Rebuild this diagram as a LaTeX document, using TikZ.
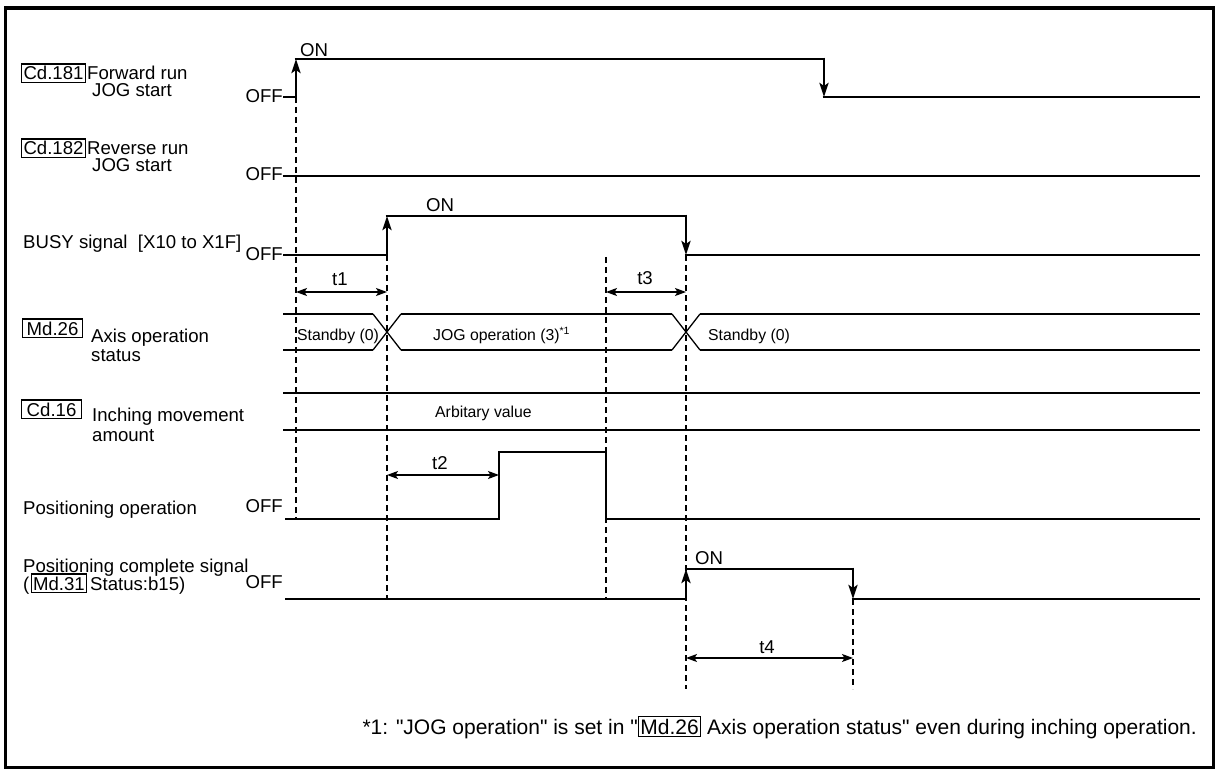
\documentclass[tikz,border=0pt]{standalone}
\usepackage{fontspec}
\setmainfont{Liberation Sans}[Ligatures=TeXOff]
\usetikzlibrary{arrows.meta}
\newcommand\BigF{\fontsize{18.6}{18}\selectfont}
\newcommand\SmallF{\fontsize{15.8}{16}\selectfont}
\newcommand\NoteF{\fontsize{21}{21}\selectfont}
\begin{document}
\begin{tikzpicture}[x=1pt,y=-1pt,
  txt/.style={font=\BigF, inner sep=0pt, anchor=base west},
  txtr/.style={font=\BigF, inner sep=0pt, anchor=base east},
  txtc/.style={font=\BigF, inner sep=0pt, anchor=base},
  stxt/.style={font=\SmallF, inner sep=0pt, anchor=base west},
  reg/.style={draw, line width=1.1pt, font=\BigF, inner xsep=2pt, inner ysep=2.5pt, anchor=base west},
  regw/.style={reg, minimum width=60pt},
  sig/.style={line width=2.8pt},
  lvl/.style={line width=2.6pt},
  xln/.style={line width=1.3pt},
  guide/.style={line width=1.1pt, dash pattern=on 6pt off 4pt},
  edgeup/.style={line width=2.8pt, -{Stealth[length=14pt,width=9pt,inset=3pt]}},
  dim/.style={line width=1.2pt, {Stealth[length=11pt,width=8pt,inset=2.5pt]}-{Stealth[length=11pt,width=8pt,inset=2.5pt]}}
]
\useasboundingbox (0,0) rectangle (1216,770);
\draw[line width=3.5pt] (5.5,8) rectangle (1213.5,767.5);

% ---------- left labels ----------
\node[reg] (cd181) at (21,80) {Cd.181};
\node[txt] (fwd1) at (87,80) {Forward run};
\node[txt] (fwd2) at (92,96.5) {JOG start};
\node[reg] (cd182) at (21,155) {Cd.182};
\node[txt] (rev1) at (87,155) {Reverse run};
\node[txt] (rev2) at (92,172) {JOG start};
\node[txt] (busy) at (23,249) {BUSY signal\ \ [X10 to X1F]};
\node[regw] (md26) at (22,335) {Md.26};
\node[txt] (axis1) at (91,342) {Axis operation};
\node[txt] (axis2) at (91,361) {status};
\node[regw] (cd16) at (21,416) {Cd.16};
\node[txt] (inch1) at (92,421) {Inching movement};
\node[txt] (inch2) at (92,441) {amount};
\node[txt] (posop) at (23,514) {Positioning operation};
\node[txt] (posc1) at (23,572) {Positioning complete signal};
\node[txt] (paren) at (23,590) {(};
\node[reg, inner xsep=1.5pt] (md31) at (31,590) {Md.31};
\node[txt] (posc2) at (90,590) {Status:b15)};

% ---------- OFF / ON labels ----------
\node[txtr] (off1) at (283,103) {OFF};
\node[txtr] (off2) at (283,181) {OFF};
\node[txtr] (off3) at (283,261) {OFF};
\node[txtr] (off4) at (283,512) {OFF};
\node[txtr] (off5) at (283,588) {OFF};
\node[txt] (on1) at (300,57) {ON};
\node[txt] (on2) at (426,212) {ON};
\node[txt] (on3) at (695,564) {ON};

% ---------- guides ----------
\draw[guide] (296,97) -- (296,520);
\draw[guide] (387,255) -- (387,599);
\draw[guide] (606,257) -- (606,599);
\draw[guide] (686,255) -- (686,689);
\draw[guide] (853,599) -- (853,689);

% ---------- Cd.181 ----------
\draw[sig] (283,97) -- (296,97);
\draw[edgeup] (296,98.4) -- (296,59);
\draw[sig] (294.6,59) -- (824,59);
\draw[edgeup] (824,57.6) -- (824,97);
\draw[sig] (822.6,97) -- (1200,97);
% ---------- Cd.182 ----------
\draw[sig] (283,176) -- (1200,176);
% ---------- BUSY ----------
\draw[sig] (283,255) -- (387,255);
\draw[edgeup] (387,256.4) -- (387,216);
\draw[sig] (385.6,216) -- (686,216);
\draw[edgeup] (686,214.6) -- (686,255);
\draw[sig] (684.6,255) -- (1200,255);

% ---------- dimension arrows ----------
\draw[dim] (296,292) -- (387,292);
\node[txtc] (t1) at (340,286) {t1};
\draw[dim] (606,292) -- (686,292);
\node[txtc] (t3) at (645,284) {t3};
\draw[dim] (387,475) -- (499,475);
\node[txtc] (t2) at (440,469) {t2};
\draw[dim] (686,658) -- (853,658);
\node[txtc] (t4) at (767,653) {t4};

% ---------- Md.26 status ----------
\draw[lvl] (283,314) -- (373,314);
\draw[lvl] (283,350) -- (373,350);
\draw[xln] (373,314) -- (401,350);
\draw[xln] (373,350) -- (401,314);
\draw[lvl] (401,314) -- (672,314);
\draw[lvl] (401,350) -- (672,350);
\draw[xln] (672,314) -- (700,350);
\draw[xln] (672,350) -- (700,314);
\draw[lvl] (700,314) -- (1200,314);
\draw[lvl] (700,350) -- (1200,350);
\node[stxt] (sb1) at (297,340) {Standby (0)};
\node[stxt] (jog) at (433,340) {JOG operation (3)\raisebox{6pt}{\fontsize{10.5}{10}\selectfont *1}};
\node[stxt] (sb2) at (708,340) {Standby (0)};

% ---------- Cd.16 ----------
\draw[lvl] (283,393) -- (1200,393);
\draw[lvl] (283,430) -- (1200,430);
\node[stxt] (arb) at (435,417) {Arbitary value};

% ---------- Positioning operation ----------
\draw[sig] (285,519) -- (499,519) -- (499,452) -- (606,452) -- (606,519) -- (1200,519);

% ---------- Positioning complete ----------
\draw[sig] (285,599) -- (686,599);
\draw[edgeup] (686,600.4) -- (686,569);
\draw[sig] (684.6,569) -- (853,569);
\draw[edgeup] (853,567.6) -- (853,599);
\draw[sig] (851.6,599) -- (1200,599);

% ---------- footnote ----------
\node[font=\NoteF, inner sep=0pt, anchor=base east] (note) at (1197,734)
  {*1: "JOG operation" is set in "{\fboxsep=1.5pt\fboxrule=1.1pt\fbox{Md.26}} Axis operation status" even during inching operation.};
\end{tikzpicture}
\end{document}
